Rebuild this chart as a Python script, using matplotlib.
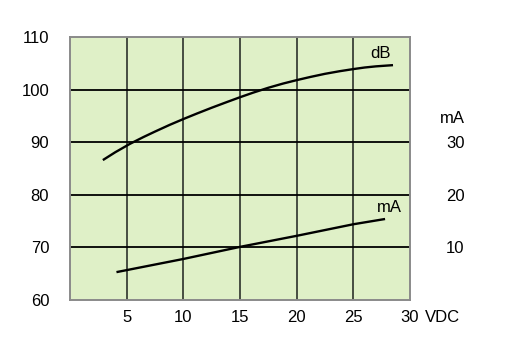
import matplotlib
matplotlib.use("Agg")
import matplotlib.pyplot as plt

plt.rcParams['font.family'] = ['Liberation Sans', 'DejaVu Sans']

# dB curve (left axis)
db_x = [2.9, 4.0, 5.3, 6.5, 7.5, 8.8, 10, 11.2, 12.5, 13.8, 15, 16.2, 17.5,
        18.8, 20, 21.2, 22.5, 23.8, 25, 26, 27, 28.5]
db_y = [86.6, 88.1, 89.7, 91.0, 92.02, 93.3, 94.4, 95.45, 96.55, 97.6, 98.55,
        99.45, 100.35, 101.15, 101.8, 102.4, 103.0, 103.5, 103.9, 104.2, 104.42, 104.65]
# mA curve (right axis)
ma_x = [4.1, 10, 15, 20, 25, 27.8]
ma_y = [5.3, 7.8, 10.1, 12.2, 14.4, 15.4]

x_ticks = [5, 10, 15, 20, 25, 30]
db_ticks = [60, 70, 80, 90, 100, 110]
ma_ticks = [10, 20, 30]

fig = plt.figure(figsize=(5.08, 3.63), dpi=100)
ax = fig.add_axes([70/508, 63/363, 340/508, 263/363])
ax.set_facecolor('#dff0c7')
ax.set_xlim(0, 30)
ax.set_ylim(60, 110)

for v in x_ticks[:-1]:
    ax.axvline(v, color='#3a4038', lw=1.3, zorder=1)
for v in db_ticks[1:-1]:
    ax.axhline(v, color='black', lw=1.3, zorder=1)

ax.plot(db_x, db_y, color='black', lw=1.7, zorder=3, solid_capstyle='butt')

ax2 = ax.twinx()
ax2.set_ylim(0, 50)
ax2.plot(ma_x, ma_y, color='black', lw=1.7, zorder=3, solid_capstyle='butt')

ax.set_xticks(x_ticks)
ax.set_yticks(db_ticks)
ax2.set_yticks(ma_ticks)
ax.tick_params(axis='both', length=0, labelsize=12)
ax.tick_params(axis='y', pad=15)
ax.tick_params(axis='x', pad=7)
ax2.tick_params(axis='y', length=0, labelsize=12, pad=26)

for a in (ax, ax2):
    for s in a.spines.values():
        s.set_color('#8a8a8a')
        s.set_linewidth(1.2)

ax.text(27.4, 106.8, 'dB', fontsize=12, ha='center', va='center')
ax2.text(28.2, 17.5, 'mA', fontsize=12, ha='center', va='center')
ax2.text(1.125, 34.5, 'mA', fontsize=12, ha='center', va='center',
         transform=ax2.get_yaxis_transform())
ax.text(1.097, -0.065, 'VDC', fontsize=12, ha='center', va='center',
        transform=ax.transAxes)

fig.savefig('out.png', dpi=100)
